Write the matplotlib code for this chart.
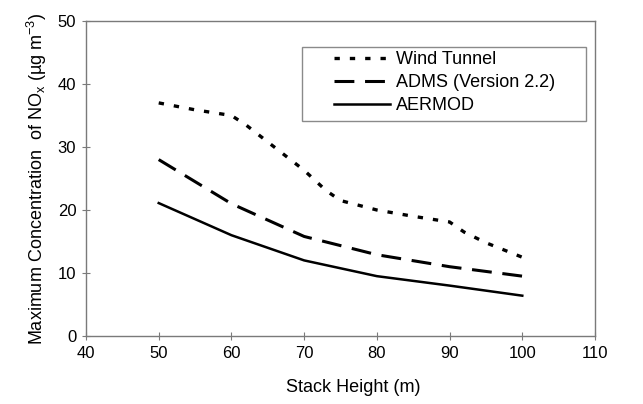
import matplotlib
matplotlib.use("Agg")
import matplotlib.pyplot as plt
from matplotlib.patches import Rectangle

plt.rcParams['font.family'] = ['Liberation Sans', 'DejaVu Sans']
plt.rcParams['mathtext.fontset'] = 'custom'
plt.rcParams['mathtext.rm'] = 'Liberation Sans'
plt.rcParams['mathtext.it'] = 'Liberation Sans:italic'

wt_x = [50, 55, 60, 62, 65, 70, 73, 75, 80, 85, 90, 92, 95, 100]
wt_y = [37, 35.9, 35, 33.5, 30.8, 26.3, 23.1, 21.5, 20, 19, 18.1, 16.5, 14.8, 12.5]
st_x = [50, 60, 70, 80, 90, 100]
adms_y = [28, 21, 15.8, 12.9, 11, 9.5]
aermod_y = [21.1, 16, 12, 9.5, 8, 6.4]
xticks = [40, 50, 60, 70, 80, 90, 100, 110]
yticks = [0, 10, 20, 30, 40, 50]

fig = plt.figure(figsize=(6.43, 4.04), dpi=100)
ax = fig.add_axes([86/643, 1-336/404, (595-86)/643, (336-21)/404])

ax.plot(wt_x, wt_y, color='black', lw=2.4, linestyle=(0, (1.6, 3.0)), label='Wind Tunnel')
ax.plot(st_x, adms_y, color='black', lw=2.2, linestyle=(0, (6.5, 3.5)), label='ADMS (Version 2.2)')
ax.plot(st_x, aermod_y, color='black', lw=1.8, linestyle='-', label='AERMOD')

ax.set_xlim(40, 110)
ax.set_ylim(0, 50)
ax.set_xticks(xticks)
ax.set_yticks(yticks)
for s in ax.spines.values():
    s.set_color('#7a7a7a')
    s.set_linewidth(1.0)
ax.tick_params(direction='inout', length=6, width=0.8, color='#7a7a7a', labelsize=12, pad=4)
ax.set_xlabel('Stack Height (m)', fontsize=13)
ax.xaxis.set_label_coords((353.5 - 86) / 509, -0.135)
ax.set_ylabel(r'Maximum Concentration  of NO$_{\mathrm{x}}$ (µg m$^{-3}$)', fontsize=13, labelpad=6)

# legend frame
x0 = (301.7 - 86) / 509
x1 = (586 - 86) / 509
y1 = (336 - 46.7) / 315
y0 = (336 - 121) / 315
ax.add_patch(Rectangle((x0, y0), x1 - x0, y1 - y0, transform=ax.transAxes,
                       facecolor='white', edgecolor='#8a8a8a', lw=1.0, zorder=3))

leg = ax.legend(loc='upper left', bbox_to_anchor=((334 - 86) / 509, (336 - 51) / 315), fontsize=13,
                frameon=False, handlelength=3.1, handletextpad=0.33, borderpad=0,
                labelspacing=0.33, borderaxespad=0)
leg.set_zorder(4)

fig.savefig('out.png', dpi=100)
